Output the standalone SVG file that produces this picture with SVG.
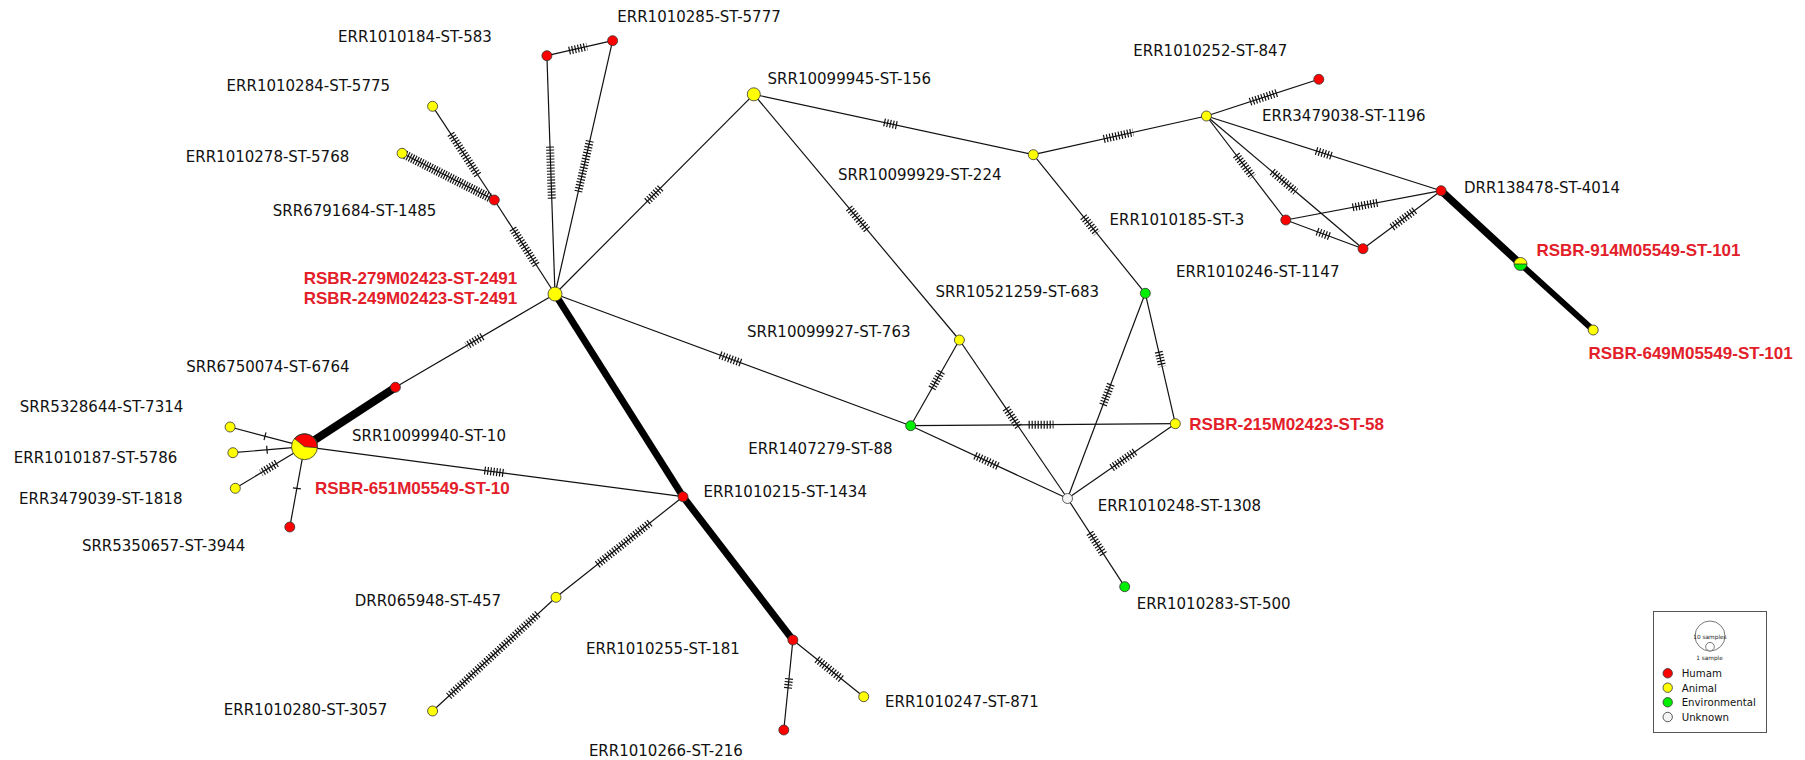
<svg xmlns="http://www.w3.org/2000/svg" width="1805" height="760" viewBox="0 0 1805 760">
<style>
.e{stroke:#111;stroke-width:1.2;fill:none}
.k{stroke:#000;fill:none;stroke-linecap:butt}
.t{stroke:#111;stroke-width:8;stroke-dasharray:1.2 1.8;fill:none}
.td{stroke:#111;stroke-width:9;stroke-dasharray:1.2 1.4;fill:none}
.n{stroke:#333;stroke-width:0.8}
.R{fill:#ff0000}.Y{fill:#ffff00}.G{fill:#00ee00}.W{fill:#f4f4f4}
.l{font-family:"DejaVu Sans","Liberation Sans",sans-serif;font-size:15px;fill:#111}
.b{font-family:"Liberation Sans",Arial,sans-serif;font-size:17px;font-weight:bold;fill:#e3202a}
.lg{font-family:"DejaVu Sans","Liberation Sans",sans-serif;font-size:10.2px;fill:#111}
.ls{font-family:"DejaVu Sans","Liberation Sans",sans-serif;font-size:5.8px;fill:#222}
</style>
<rect width="1805" height="760" fill="#fff"/>
<g id="connectors">
<line class="e" x1="555" y1="294" x2="494.3" y2="200"/>
<line class="t" x1="536.2" y1="264.9" x2="511.9" y2="227.3"/>
<line class="e" x1="494.3" y1="200" x2="432.6" y2="106.3"/>
<line class="t" x1="477.8" y1="175" x2="450.4" y2="133.3"/>
<line class="e" x1="494.3" y1="200" x2="402.1" y2="153.3"/>
<line class="td" x1="489.7" y1="197.7" x2="404.9" y2="154.7"/>
<line class="e" x1="555" y1="294" x2="546.9" y2="55.7"/>
<line class="t" x1="551.8" y1="198.7" x2="550" y2="146.3"/>
<line class="e" x1="555" y1="294" x2="612.6" y2="40.7"/>
<line class="t" x1="578.3" y1="191.7" x2="590" y2="140"/>
<line class="e" x1="546.9" y1="55.7" x2="612.6" y2="40.7"/>
<line class="t" x1="569" y1="50.7" x2="587" y2="46.6"/>
<line class="e" x1="555" y1="294" x2="753.8" y2="94.3"/>
<line class="t" x1="647" y1="201.5" x2="661" y2="187.6"/>
<line class="e" x1="753.8" y1="94.3" x2="1033.3" y2="154.7"/>
<line class="t" x1="884" y1="122.4" x2="898" y2="125.5"/>
<line class="e" x1="753.8" y1="94.3" x2="959.4" y2="340"/>
<line class="t" x1="849" y1="208" x2="867.3" y2="230"/>
<line class="e" x1="1033.3" y1="154.7" x2="1206.4" y2="116"/>
<line class="t" x1="1103.7" y1="139" x2="1133.3" y2="132.3"/>
<line class="e" x1="1033.3" y1="154.7" x2="1145.3" y2="293.3"/>
<line class="t" x1="1083.4" y1="216.7" x2="1096.8" y2="233.3"/>
<line class="e" x1="1206.4" y1="116" x2="1318.8" y2="79.3"/>
<line class="t" x1="1250" y1="101.8" x2="1277.4" y2="92.8"/>
<line class="e" x1="1206.4" y1="116" x2="1441.1" y2="190.7"/>
<line class="t" x1="1316" y1="150.9" x2="1333" y2="156.3"/>
<line class="e" x1="1206.4" y1="116" x2="1285.8" y2="220"/>
<line class="t" x1="1236.2" y1="155" x2="1252.8" y2="176.7"/>
<line class="e" x1="1206.4" y1="116" x2="1363" y2="248.7"/>
<line class="t" x1="1272.2" y1="171.7" x2="1295.7" y2="191.6"/>
<line class="e" x1="1285.8" y1="220" x2="1441.1" y2="190.7"/>
<line class="t" x1="1352.6" y1="207.4" x2="1377.6" y2="202.7"/>
<line class="e" x1="1285.8" y1="220" x2="1363" y2="248.7"/>
<line class="t" x1="1317" y1="231.6" x2="1329.4" y2="236.2"/>
<line class="e" x1="1363" y1="248.7" x2="1441.1" y2="190.7"/>
<line class="t" x1="1392" y1="227.2" x2="1415" y2="210.1"/>
<line class="k" stroke-width="7.5" x1="1441.1" y1="190.7" x2="1520.5" y2="264"/>
<line class="k" stroke-width="6" x1="1520.5" y1="264" x2="1593.2" y2="330"/>
<line class="k" stroke-width="7" x1="555" y1="294" x2="683" y2="496.7"/>
<line class="k" stroke-width="7" x1="683" y1="496.7" x2="792.9" y2="640"/>
<line class="e" x1="555" y1="294" x2="910.7" y2="425.7"/>
<line class="t" x1="720" y1="355.1" x2="742" y2="363.2"/>
<line class="e" x1="555" y1="294" x2="395.4" y2="387.3"/>
<line class="t" x1="482.4" y1="336.4" x2="466.6" y2="345.7"/>
<line class="k" stroke-width="8" x1="395.4" y1="387.3" x2="304.5" y2="446.7"/>
<line class="e" x1="304.5" y1="446.7" x2="683" y2="496.7"/>
<line class="t" x1="484.4" y1="470.5" x2="505.3" y2="473.2"/>
<line class="e" x1="304.5" y1="446.7" x2="230.1" y2="427"/>
<line class="t" x1="265.58" y1="436.35" x2="264.42" y2="436.05"/>
<line class="e" x1="304.5" y1="446.7" x2="232.9" y2="452.7"/>
<line class="t" x1="267.6" y1="449.75" x2="266.4" y2="449.85"/>
<line class="e" x1="304.5" y1="446.7" x2="235.3" y2="488.3"/>
<line class="t" x1="276.8" y1="463.3" x2="261" y2="472.8"/>
<line class="e" x1="304.5" y1="446.7" x2="289.8" y2="527"/>
<line class="t" x1="297" y1="487.7" x2="296.8" y2="489.3"/>
<line class="e" x1="683" y1="496.7" x2="556" y2="597.3"/>
<line class="t" x1="650" y1="522.8" x2="597" y2="564.8"/>
<line class="e" x1="556" y1="597.3" x2="432.6" y2="711"/>
<line class="t" x1="537.8" y1="614" x2="448.8" y2="696.1"/>
<line class="e" x1="792.9" y1="640" x2="863.7" y2="696.7"/>
<line class="t" x1="817" y1="659.3" x2="842.7" y2="679.9"/>
<line class="e" x1="792.9" y1="640" x2="783.8" y2="730"/>
<line class="t" x1="789" y1="678.3" x2="788" y2="688.3"/>
<line class="e" x1="959.4" y1="340" x2="910.7" y2="425.7"/>
<line class="t" x1="941.4" y1="371.7" x2="931" y2="390"/>
<line class="e" x1="959.4" y1="340" x2="1067.5" y2="498.5"/>
<line class="t" x1="1006" y1="408.3" x2="1019.6" y2="428.3"/>
<line class="e" x1="910.7" y1="425.7" x2="1175.3" y2="423.7"/>
<line class="t" x1="1028.6" y1="424.8" x2="1053.5" y2="424.6"/>
<line class="e" x1="910.7" y1="425.7" x2="1067.5" y2="498.5"/>
<line class="t" x1="975" y1="455.6" x2="999" y2="466.7"/>
<line class="e" x1="1067.5" y1="498.5" x2="1145.3" y2="293.3"/>
<line class="t" x1="1103" y1="405" x2="1111.2" y2="383.4"/>
<line class="e" x1="1067.5" y1="498.5" x2="1175.3" y2="423.7"/>
<line class="t" x1="1111.7" y1="467.8" x2="1135" y2="451.7"/>
<line class="e" x1="1145.3" y1="293.3" x2="1175.3" y2="423.7"/>
<line class="t" x1="1158.7" y1="351.7" x2="1162.2" y2="366.7"/>
<line class="e" x1="1067.5" y1="498.5" x2="1124.7" y2="586.7"/>
<line class="t" x1="1089.8" y1="532.9" x2="1104.1" y2="555"/>
</g>
<g id="n_err1010184"><circle class="n R" cx="546.9" cy="55.7" r="5"/><text class="l" x="338" y="41.5">ERR1010184-ST-583</text></g>
<g id="n_err1010285"><circle class="n R" cx="612.6" cy="40.7" r="5"/><text class="l" x="617.3" y="22.3">ERR1010285-ST-5777</text></g>
<g id="n_err1010284"><circle class="n Y" cx="432.6" cy="106.3" r="5"/><text class="l" x="226.6" y="90.5">ERR1010284-ST-5775</text></g>
<g id="n_err1010278"><circle class="n Y" cx="402.1" cy="153.3" r="5"/><text class="l" x="185.8" y="162.2">ERR1010278-ST-5768</text></g>
<g id="n_srr6791684"><circle class="n R" cx="494.3" cy="200" r="5"/><text class="l" x="272.8" y="215.5">SRR6791684-ST-1485</text></g>
<g id="n_hub"><circle class="n Y" cx="555" cy="294" r="7"/><text class="b" x="303.7" y="284">RSBR-279M02423-ST-2491</text><text class="b" x="303.7" y="304">RSBR-249M02423-ST-2491</text></g>
<g id="n_srr10099945"><circle class="n Y" cx="753.8" cy="94.3" r="6.5"/><text class="l" x="767.6" y="83.8">SRR10099945-ST-156</text></g>
<g id="n_srr10099929"><circle class="n Y" cx="1033.3" cy="154.7" r="5"/><text class="l" x="838" y="179.8">SRR10099929-ST-224</text></g>
<g id="n_err1010252"><circle class="n R" cx="1318.8" cy="79.3" r="5"/><text class="l" x="1133.3" y="56.2">ERR1010252-ST-847</text></g>
<g id="n_err3479038"><circle class="n Y" cx="1206.4" cy="116" r="5"/><text class="l" x="1262" y="120.5">ERR3479038-ST-1196</text></g>
<g id="n_drr138478"><circle class="n R" cx="1441.1" cy="190.7" r="5"/><text class="l" x="1464" y="193">DRR138478-ST-4014</text></g>
<g id="n_err1010185"><circle class="n R" cx="1285.8" cy="220" r="5"/><text class="l" x="1109.6" y="224.8">ERR1010185-ST-3</text></g>
<g id="n_err1010246"><circle class="n R" cx="1363" cy="248.7" r="5"/><text class="l" x="1176" y="277.2">ERR1010246-ST-1147</text></g>
<g id="n_rsbr914"><path d="M1514,264 A6.5,6.5 0 0 1 1527,264 Z" class="Y"/><path d="M1514,264 A6.5,6.5 0 0 0 1527,264 Z" class="G"/><line x1="1514" y1="264" x2="1527" y2="264" stroke="#333" stroke-width="0.8"/><circle cx="1520.5" cy="264" r="6.5" fill="none" stroke="#333" stroke-width="0.8"/><text class="b" x="1536.4" y="255.5">RSBR-914M05549-ST-101</text></g>
<g id="n_rsbr649"><circle class="n Y" cx="1593.2" cy="330" r="5"/><text class="b" x="1588.6" y="358.5">RSBR-649M05549-ST-101</text></g>
<g id="n_srr10521259"><circle class="n G" cx="1145.3" cy="293.3" r="5"/><text class="l" x="935.6" y="296.7">SRR10521259-ST-683</text></g>
<g id="n_srr10099927"><circle class="n Y" cx="959.4" cy="340" r="5"/><text class="l" x="747" y="337.2">SRR10099927-ST-763</text></g>
<g id="n_err1407279"><circle class="n G" cx="910.7" cy="425.7" r="5"/><text class="l" x="748.2" y="453.8">ERR1407279-ST-88</text></g>
<g id="n_rsbr215"><circle class="n Y" cx="1175.3" cy="423.7" r="5"/><text class="b" x="1189.3" y="430">RSBR-215M02423-ST-58</text></g>
<g id="n_err1010248"><circle class="n W" cx="1067.5" cy="498.5" r="5" stroke="#888"/><text class="l" x="1097.7" y="511.2">ERR1010248-ST-1308</text></g>
<g id="n_err1010283"><circle class="n G" cx="1124.7" cy="586.7" r="5"/><text class="l" x="1136.7" y="608.5">ERR1010283-ST-500</text></g>
<g id="n_err1010215"><circle class="n R" cx="683" cy="496.7" r="5"/><text class="l" x="703.5" y="496.5">ERR1010215-ST-1434</text></g>
<g id="n_err1010255"><circle class="n R" cx="792.9" cy="640" r="5"/><text class="l" x="586" y="653.8">ERR1010255-ST-181</text></g>
<g id="n_err1010247"><circle class="n Y" cx="863.7" cy="696.7" r="5"/><text class="l" x="885" y="707.2">ERR1010247-ST-871</text></g>
<g id="n_err1010266"><circle class="n R" cx="783.8" cy="730" r="5"/><text class="l" x="588.9" y="756.2">ERR1010266-ST-216</text></g>
<g id="n_drr065948"><circle class="n Y" cx="556" cy="597.3" r="5"/><text class="l" x="354.7" y="606.2">DRR065948-ST-457</text></g>
<g id="n_err1010280"><circle class="n Y" cx="432.6" cy="711" r="5"/><text class="l" x="223.8" y="714.5">ERR1010280-ST-3057</text></g>
<g id="n_srr6750074"><circle class="n R" cx="395.4" cy="387.3" r="5"/><text class="l" x="186.2" y="372.2">SRR6750074-ST-6764</text></g>
<g id="n_srr10099940"><circle class="Y" cx="304.5" cy="446.7" r="13"/><path class="R" d="M304.5,446.7 L294.5,438.6 A12.9,12.9 0 0 1 317.4,447.7 Z" stroke="#333" stroke-width="0.8"/><circle cx="304.5" cy="446.7" r="13" fill="none" stroke="#333" stroke-width="0.8"/><text class="l" x="352" y="440.8">SRR10099940-ST-10</text><text class="b" x="315" y="494">RSBR-651M05549-ST-10</text></g>
<g id="n_srr5328644"><circle class="n Y" cx="230.1" cy="427" r="5"/><text class="l" x="19.8" y="412.2">SRR5328644-ST-7314</text></g>
<g id="n_err1010187"><circle class="n Y" cx="232.9" cy="452.7" r="5"/><text class="l" x="13.8" y="463.2">ERR1010187-ST-5786</text></g>
<g id="n_err3479039"><circle class="n Y" cx="235.3" cy="488.3" r="5"/><text class="l" x="19" y="504.2">ERR3479039-ST-1818</text></g>
<g id="n_srr5350657"><circle class="n R" cx="289.8" cy="527" r="5"/><text class="l" x="81.9" y="551.2">SRR5350657-ST-3944</text></g>
<g id="legend">
<rect x="1653.5" y="611.5" width="113" height="121" fill="#fff" stroke="#555" stroke-width="1"/>
<circle cx="1710" cy="636" r="15" fill="none" stroke="#555" stroke-width="0.8"/>
<circle cx="1710" cy="646.7" r="4.3" fill="#fff" stroke="#555" stroke-width="0.8"/>
<text class="ls" x="1710" y="639" text-anchor="middle">10 samples</text>
<text class="ls" x="1709.5" y="660" text-anchor="middle">1 sample</text>
<circle class="n R" cx="1667.7" cy="673.3" r="4.7"/>
<circle class="n Y" cx="1667.7" cy="687.7" r="4.7"/>
<circle class="n G" cx="1667.7" cy="702.3" r="4.7"/>
<circle class="n W" cx="1667.7" cy="717" r="4.7" stroke="#777"/>
<text class="lg" x="1681.7" y="677.3">Humam</text>
<text class="lg" x="1681.7" y="691.8">Animal</text>
<text class="lg" x="1681.7" y="706.3">Environmental</text>
<text class="lg" x="1681.7" y="720.8">Unknown</text>
</g>
</svg>
